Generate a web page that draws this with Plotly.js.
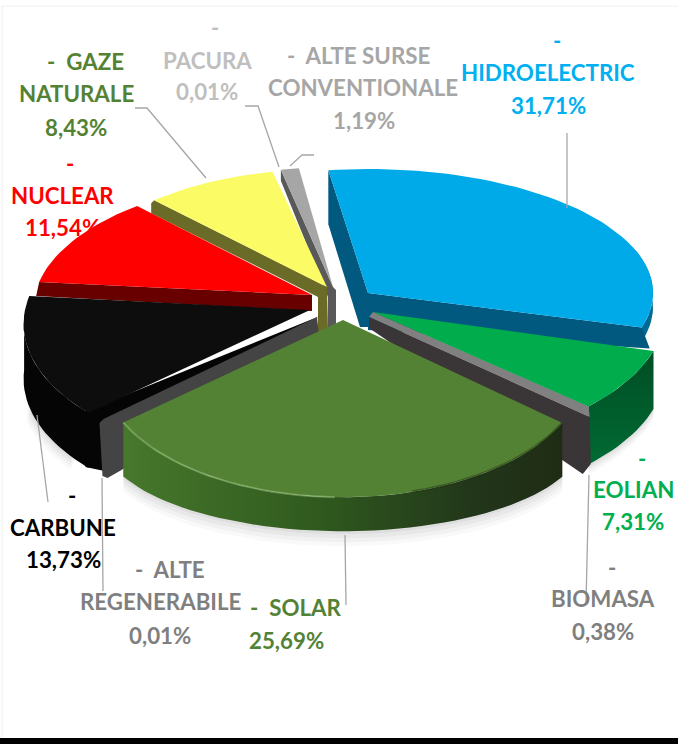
<!DOCTYPE html>
<html><head><meta charset="utf-8">
<script src="https://cdn.plot.ly/plotly-3.0.1.min.js"></script>
<style>html,body{margin:0;padding:0;background:#fff}#c{width:678px;height:744px}</style>
</head><body><div id="c"></div>
<script>
const categories = ['HIDROELECTRIC','EOLIAN','BIOMASA','SOLAR','ALTE REGENERABILE','CARBUNE','NUCLEAR','GAZE NATURALE','PACURA','ALTE SURSE CONVENTIONALE'];
const values = [31.71,7.31,0.38,25.69,0.01,13.73,11.54,8.43,0.01,1.19];
const topColors = ['#00a9e8','#00ac4c','#808080','#548235','#595959','#0d0d0d','#ff0000','#fbfb66','#bfbfbf','#a6a6a6'];
const labelColors = ['#00b0f0','#00b050','#7f7f7f','#548235','#7f7f7f','#000000','#ff0000','#548235','#bfbfbf','#a6a6a6'];
const wallColors = ['#01597f','#005a2a','#3a3536','#33561f','#444444','#050505','#690000','#6b6b28','#595959','#595959'];
const startAngle = -8;

// projected disc of each exploded slice: apex, radii, perspective
const geom = [
 {apex:[368,293],a:285,b:124,k:0},
 {apex:[373,312],a:292,b:140,k:0},
 {apex:[369,317],a:295,b:140,k:0},
 {apex:[343,320],a:223,b:109,k:.385},
 {apex:[317,317],a:280,b:139,k:.1},
 {apex:[310,310],a:285,b:139,k:.1},
 {apex:[312,295],a:277,b:130,k:.1},
 {apex:[327,287],a:255,b:118,k:0},
 {apex:[333,287],a:245,b:120,k:0},
 {apex:[333,287],a:245,b:120,k:0}
];
// text lines of the data labels: line text source and centre of each line
const labelLayout = [
 [['-',557,40],['@',548,72],['%',548,105]],
 [['-',642,458],['@',633,489],['%',633,521]],
 [['-',612,567],['@',603,598],['%',603,631]],
 [['-\u00a0\u00a0SOLAR',295,607],['%',286,640]],
 [['-\u00a0\u00a0ALTE',170,569],['REGENERABILE',160,601],['%',160,635]],
 [['-',72,495],['@',63,527],['%',63,559]],
 [['-',70,163],['@',62,195],['%',62,227]],
 [['-\u00a0\u00a0GAZE',85,61],['NATURALE',76,93],['%',76,127]],
 [['-',215,27],['@',207,60],['%',207,91]],
 [['-\u00a0\u00a0ALTE SURSE',358,55],['CONVENTIONALE',363,87],['%',364,120]]
];
const leaders = [
 [[567,567],[133,208]],
 [[135,147,206],[108,108,178]],
 [[245,258,279],[106,106,167]],
 [[290,302,314],[166,155,155]],
 [[345,346],[535,605]],
 [[102,103],[478,591]],
 [[37,48],[415,502]],
 [[589,586],[475,603]]
];

const rad = d => d*Math.PI/180;
const total = values.reduce((p,q)=>p+q,0);
let acc = startAngle;
const spans = values.map(v=>{const s=[acc,acc+v/total*360];acc=s[1];return s;});
function rim(i,t){
  const g=geom[i],u=Math.sin(rad(t)),v=-Math.cos(rad(t)),s=1/(1-g.k*v);
  return [g.apex[0]+g.a*u*s,g.apex[1]+g.b*v*s];
}
function arc(i,t0,t1,dy,dx){
  const n=Math.max(2,Math.ceil(Math.abs(t1-t0)/2)),p=[];
  for(let j=0;j<=n;j++){
    const t=t0+(t1-t0)*j/n,r=rim(i,t),u=Math.sin(rad(t));
    p.push([r[0]+(dx?dx(u):0),r[1]+(dy?dy(u):0)]);
  }
  return p;
}
const traces=[];
function poly(pts,color,grad){
  const t={type:'scatter',mode:'lines',x:pts.map(p=>p[0]).concat(pts[0][0]),y:pts.map(p=>p[1]).concat(pts[0][1]),
    fill:'toself',line:{width:0,color:color},hoverinfo:'skip',showlegend:false};
  if(grad)t.fillgradient=grad;else t.fillcolor=color;
  traces.push(t);
}
function curve(pts,color,w){
  traces.push({type:'scatter',mode:'lines',x:pts.map(p=>p[0]),y:pts.map(p=>p[1]),line:{color:color,width:w},hoverinfo:'skip',showlegend:false});
}
function sliceTop(i){poly([geom[i].apex].concat(arc(i,spans[i][0],spans[i][1])),topColors[i]);}
const add=(p,dx,dy)=>[p[0]+dx,p[1]+dy];
function band(i,t0,t1,dy){return arc(i,t0,t1,dy).concat(arc(i,t0,t1).reverse());}
function outerBelow(i,t0,t1,dy,off){return arc(i,t0,t1,u=>dy(u)+off).concat(arc(i,t0,t1).reverse());}

// soft ground shadow
const oh=u=>34+38*u*u;
[[15,.025],[11,.03],[7,.035],[3,.04]].forEach(s=>{
  poly(outerBelow(3,spans[3][0],spans[3][1],oh,s[0]),'rgba(0,0,0,'+s[1]+')');
  poly(outerBelow(1,spans[1][0],spans[1][1],()=>58,s[0]*.7),'rgba(0,0,0,'+s[1]+')');
  poly(outerBelow(5,spans[5][0]+4,spans[5][1]-25,()=>55,s[0]*.7).map(p=>add(p,-s[0]*.3,0)),'rgba(0,0,0,'+s[1]+')');
});

// alte surse
{const i=9,s=spans[i],g=geom[i].apex,r=rim(i,s[0]);
 poly([g,r,add(r,0,11),[328,297],[328,330],[336,325],[336,290]],wallColors[i]);sliceTop(i);}
// gaze
{const i=7,s=spans[i],g=geom[i].apex,r=rim(i,s[0]);
 poly([g,r,add(r,-3,3),add(r,-3,13),[318,297],[318,332],[328,330]],wallColors[i]);sliceTop(i);}
sliceTop(8);
// nuclear
{const i=6,s=spans[i],g=geom[i].apex,r=rim(i,s[0]);
 poly([g,r,add(r,-3,14),add(g,0,16)],wallColors[i]);sliceTop(i);}
// carbune
{const i=5,s=spans[i],r=rim(i,s[0]);
 poly(band(i,s[0],s[1]-8,()=>55),wallColors[i]);
 poly([[320,316],add(r,-2,-2),add(r,18,12)],wallColors[i]);
 poly([add(r,-3,-2),add(r,16,-2),add(r,16,58),add(r,-3,54)],wallColors[i]);
 sliceTop(i);}
// alte regenerabile cut face
{const i=4,s=spans[i],g=geom[i].apex,r=rim(i,s[0]);
 poly([g,add(r,4,-1),add(r,0,3),add(r,3,56),add(r,8,58),add(r,22,50),add(g,2,18)],wallColors[i]);sliceTop(i);}
// hidro
{const i=0,s=spans[i],g=geom[i].apex,r0=rim(i,s[0]),r1=rim(i,s[1]);
 poly([r0,add(r0,0,54),[360,327],[368,327],g],wallColors[i]);
 poly(arc(i,70,s[1],()=>14).concat(arc(i,70,s[1]).reverse()),'#016a94');
 poly([g,r1,add(r1,8,21),[368,330]],wallColors[i]);
 sliceTop(i);}
// eolian
{const i=1,s=spans[i],g=geom[i].apex,r1=rim(i,s[1]);
 poly(band(i,s[0],s[1],()=>58),'#005a2a',{type:'vertical',colorscale:[[0,'#006b33'],[1,'#004d24']]});
 poly([g,r1,add(r1,-2,4),add(g,-1,3)],wallColors[i]);
 sliceTop(i);}
// biomasa
{const i=2,s=spans[i],g=geom[i].apex,r=rim(i,s[1]),gr=rim(1,spans[1][1]);
 poly([geom[1].apex,gr,add(r,8,3),g],topColors[i]);
 poly([g,add(r,8,3),add(r,9,50),add(r,1,60),add(g,0,11)],wallColors[i]);}
// solar
{const i=3,s=spans[i];
 poly(arc(i,s[0],s[1],oh).concat(arc(i,s[0],s[1]).reverse()),'#33561f',{type:'horizontal',colorscale:[[0,'#47782c'],[.45,'#2f591e'],[.8,'#22361a'],[1,'#1f2c14']]});
 sliceTop(i);
 curve(arc(i,s[1],s[1]-45),'rgba(150,190,120,.55)',2);
 curve(arc(i,s[0],s[0]+35),'rgba(30,50,15,.45)',3);
}
// leader lines
leaders.forEach(l=>traces.push({type:'scatter',mode:'lines',x:l[0],y:l[1],line:{color:'#a6a6a6',width:1.3},hoverinfo:'skip',showlegend:false}));

const pct=v=>v.toFixed(2).replace('.',',')+'%';
const annotations=[];
labelLayout.forEach((lines,i)=>lines.forEach(l=>{
  const txt=l[0]==='@'?categories[i]:l[0]==='%'?pct(values[i]):l[0];
  annotations.push({x:l[1],y:l[2],xref:'x',yref:'y',text:'<b>'+txt+'</b>',showarrow:false,xanchor:'center',yanchor:'middle',
    font:{family:'Lato, Carlito, sans-serif',size:22.3,color:labelColors[i]}});
}));

Plotly.newPlot('c',traces,{
  width:678,height:744,margin:{l:0,r:0,t:0,b:0},paper_bgcolor:'#fff',plot_bgcolor:'#fff',showlegend:false,
  xaxis:{range:[0,678],visible:false,fixedrange:true},
  yaxis:{range:[744,0],visible:false,fixedrange:true},
  annotations:annotations,
  shapes:[
   {type:'line',x0:2,x1:678,y0:6,y1:6,xref:'x',yref:'y',line:{color:'#f0f0f0',width:1}},
   {type:'line',x0:2,x1:2,y0:6,y1:738,xref:'x',yref:'y',line:{color:'#f0f0f0',width:1}},
   {type:'rect',x0:0,x1:678,y0:738,y1:744,xref:'x',yref:'y',fillcolor:'#000',line:{width:0}}
  ]
},{displayModeBar:false,staticPlot:true});
</script></body></html>
